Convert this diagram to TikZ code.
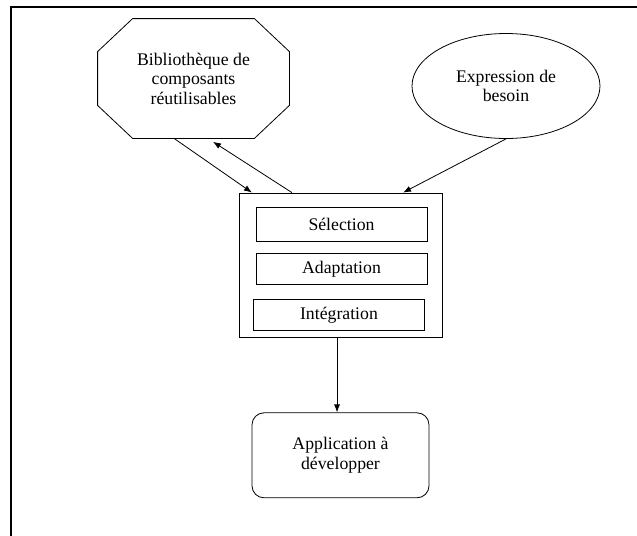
\documentclass[tikz,border=0pt]{standalone}
\usepackage{fontspec}
\setmainfont{Liberation Serif}
\usetikzlibrary{shapes,arrows.meta,positioning}
\tikzset{
  basic-style/.style = {
    draw, line width=0.6pt,
    align=center, inner sep=0pt,
    font=\fontsize{13.3}{14.6}\selectfont
  },
  lib-style/.style = {
    basic-style, draw=none, rectangle,
    minimum width=143.25pt,
    minimum height=89.25pt
  },
  need-style/.style = {
    basic-style, ellipse,
    minimum width=141pt,
    minimum height=78.75pt
  },
  proc-style/.style = {
    basic-style, rectangle,
    minimum width=152.25pt,
    minimum height=108pt
  },
  task-style/.style = {
    basic-style, rectangle,
    minimum width=128.25pt,
    minimum height=#1
  },
  task-style/.default = 23.25pt,
  app-style/.style = {
    basic-style, rectangle, rounded corners=9pt,
    minimum width=132.75pt,
    minimum height=63.75pt
  },
  every edge/.style = {draw, ->, >={Latex[length=6pt,width=4.5pt]}, line width=0.6pt}
}

\begin{document}
\begin{tikzpicture}[x=0.75pt,y=-0.75pt]
    \useasboundingbox (0,0) rectangle (637,536);
    %%% frame
    \draw[line width=1.5pt] (11,536) -- (11,7) -- (637,7);

    %%% sources
    \node[lib-style] (lib) at (193.5,78.5) {Bibliothèque de\\composants\\réutilisables};
    \draw[line width=0.6pt]
      ([xshift=26.25pt]lib.north west) -- ([xshift=-26.25pt]lib.north east)
      -- ([yshift=-24.75pt]lib.north east) -- ([yshift=24.75pt]lib.south east)
      -- ([xshift=-26.25pt]lib.south east) -- ([xshift=26.25pt]lib.south west)
      -- ([yshift=24.75pt]lib.south west) -- ([yshift=-24.75pt]lib.north west) -- cycle;
    \node[need-style] (need) at (506,86) {Expression de\\besoin};

    %%% process
    \node[proc-style] (proc) at (340.5,265) {};
    \node[task-style=25.5pt] (sel) at (341.5,224) {Sélection};
    \node[task-style,below=9pt of sel] (adapt) {Adaptation};
    \node[task-style,below=10.5pt of adapt,xshift=-1.9pt] (integ) {Intégration};

    %%% result
    \node[app-style,below=56.25pt of proc] (app) {Application à\\développer};

    %%% arrows
    \path[->] ([xshift=-14.6pt]lib.south) edge ([xshift=-66.4pt]proc.north);
    \path[->] ([xshift=-36.4pt]proc.north) edge ([xshift=14.6pt,yshift=-2.5pt]lib.south);
    \path[->] (need.south) edge ([xshift=46.9pt]proc.north);
    \path[->] ([xshift=-2.6pt]proc.south) edge ([xshift=-2.6pt]app.north);
  \end{tikzpicture}
\end{document}
